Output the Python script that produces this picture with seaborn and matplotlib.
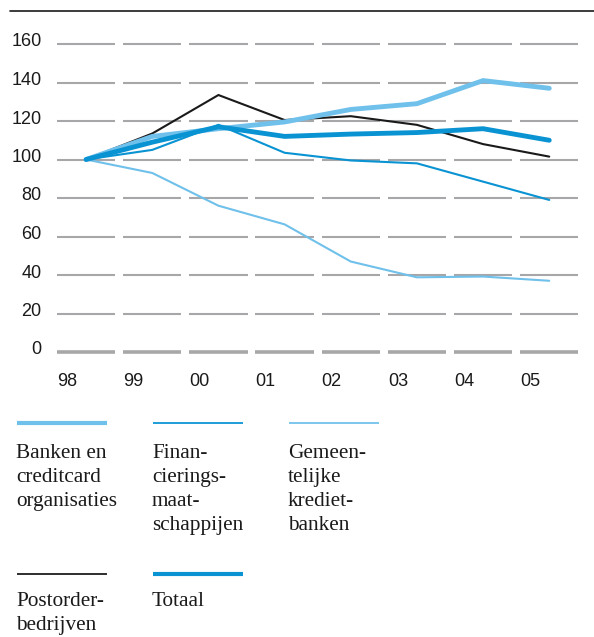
import numpy as np
import pandas as pd
import seaborn as sns
import matplotlib.pyplot as plt
from matplotlib.lines import Line2D
from matplotlib.transforms import ScaledTranslation

# Index of consumer credit per lender type (1998 = 100)
years = ["98", "99", "00", "01", "02", "03", "04", "05"]
banken = [100, 112, 116, 119.5, 126, 129, 141, 137]
financiering = [100, 105, 118, 103.5, 99.5, 98, 88.5, 79]
gemeentelijk = [100, 93, 76, 66.3, 47, 38.8, 39.2, 37]
postorder = [100, 113.5, 133.5, 120.5, 122.5, 118, 108, 101.5]
totaal = [100, 109, 117, 112, 113.2, 114, 116, 110]

series_names = [
    "Banken en\ncreditcard\norganisaties",
    "Finan-\ncierings-\nmaat-\nschappijen",
    "Gemeen-\ntelijke\nkrediet-\nbanken",
    "Postorder-\nbedrijven",
    "Totaal",
]
series_values = [banken, financiering, gemeentelijk, postorder, totaal]
y_ticks = [0, 20, 40, 60, 80, 100, 120, 140, 160]

LIGHT = "#6fc0ea"
MID = "#0a93d2"
BLACK = "#1a1a1a"
GRID = "#a7a7a9"
styles = {
    series_names[0]: (LIGHT, 3.5),
    series_names[1]: (MID, 1.5),
    series_names[2]: (LIGHT, 1.5),
    series_names[3]: (BLACK, 1.5),
    series_names[4]: (MID, 3.5),
}
draw_order = [2, 1, 3, 0, 4]

df = pd.DataFrame(
    [(i, name, v) for name, vals in zip(series_names, series_values)
     for i, v in enumerate(vals)],
    columns=["pos", "reeks", "index"],
)

sns.set_theme(style="white")
plt.rcParams["font.family"] = ["Liberation Sans", "DejaVu Sans"]

fig = plt.figure(figsize=(5.94, 6.37), dpi=100)
H = 637.0
W = 594.0
ax = fig.add_axes([57 / W, (H - 352) / H, (581 - 57) / W, (352 - 44) / H])
ax.set_xlim(-0.44, 7.48)
ax.set_ylim(0, 160)

# Dashed grid: one segment per year column
xs = np.arange(len(years))
for yv in y_ticks:
    ax.hlines([yv] * len(xs), xs - 0.44, xs + 0.44, color=GRID,
              lw=2.6 if yv == 0 else 1.5, zorder=1, clip_on=False)

for k in draw_order:
    name = series_names[k]
    color, lw = styles[name]
    sns.lineplot(data=df[df["reeks"] == name], x="pos", y="index", ax=ax,
                 color=color, lw=lw, legend=False, zorder=3,
                 solid_joinstyle="miter")

for line in ax.lines:
    line.set_clip_on(False)

for s in ax.spines.values():
    s.set_visible(False)
ax.set_xlabel("")
ax.set_ylabel("")

ax.set_yticks(y_ticks)
ax.set_yticklabels([str(v) for v in y_ticks])
ax.set_xticks(xs - 0.44)
ax.set_xticklabels(years, ha="left")
ax.tick_params(axis="both", length=0, labelsize=13, colors="#1a1a1a")
ax.tick_params(axis="y", pad=11)
ax.tick_params(axis="x", pad=15)
up = ScaledTranslation(0, 4 / 100, fig.dpi_scale_trans)
for t in ax.get_yticklabels():
    t.set_transform(t.get_transform() + up)

# Top rule
fig.add_artist(Line2D([10 / W, 1.0], [(H - 11) / H] * 2, color=BLACK, lw=1.2))

# Legend blocks: sample line above a label
legend_pos = [(16, 423, 444), (152, 423, 444), (288, 423, 444),
              (16, 574, 592), (152, 574, 592)]
for name, (lx, ly, ty) in zip(series_names, legend_pos):
    color, lw = styles[name]
    fig.add_artist(Line2D([(lx + 1) / W, (lx + 91) / W], [(H - ly) / H] * 2,
                          color=color, lw=lw * 0.85,
                          solid_capstyle="butt"))
    fig.text(lx / W, (H - ty) / H, name, ha="left", va="top",
             fontsize=15.3, family=["Liberation Serif", "DejaVu Serif"],
             color="#1a1a1a", linespacing=1.36)

fig.savefig("out.png", dpi=100, facecolor="white")
